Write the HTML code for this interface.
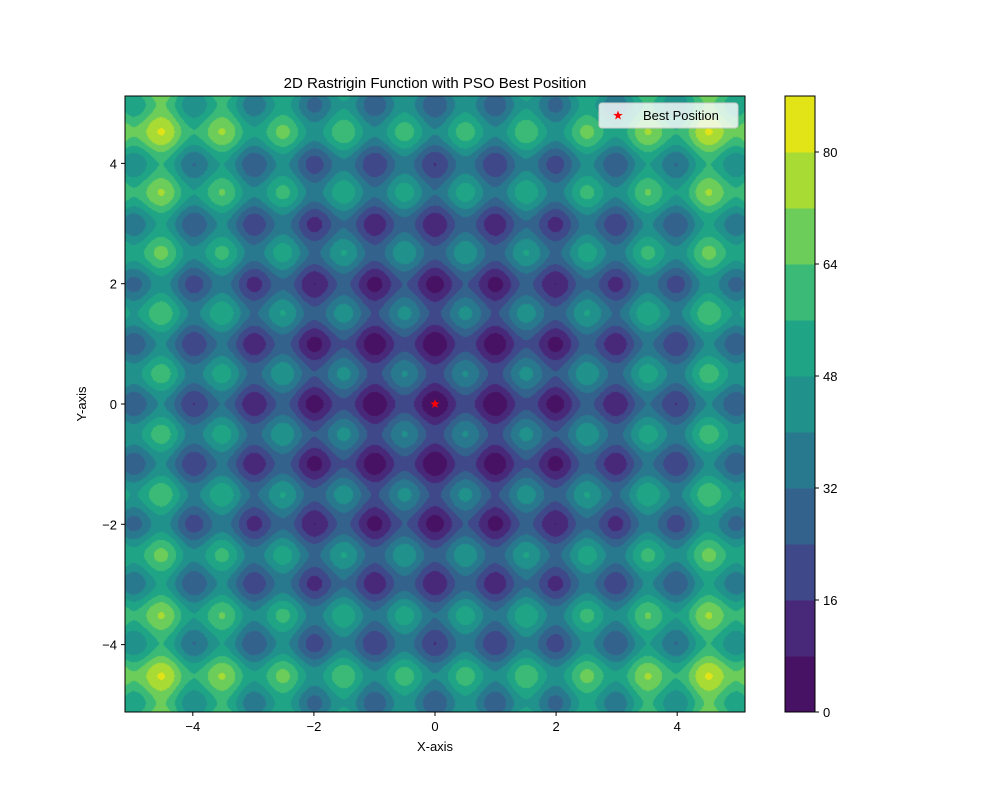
<!DOCTYPE html>
<html><head><meta charset="utf-8">
<style>
body{margin:0;background:#fff;}
#wrap{position:relative;width:1000px;height:800px;font-family:"Liberation Sans",sans-serif;}
svg text{font-family:"Liberation Sans",sans-serif;}
</style></head>
<body>
<div id="wrap">
<canvas id="cv" width="620" height="616" style="position:absolute;left:125px;top:96px;"></canvas>
<svg id="svg" width="1000" height="800" style="position:absolute;left:0;top:0;"></svg>
</div>
<script>
const levels=[0,8,16,24,32,40,48,56,64,72,80,88];
const bandColors=["#471164","#482979","#3f4889","#33638d","#29798e","#21918c","#20a486","#3aba76","#6ccd5a","#a8db34","#e2e418"];
const xTicks=[-4,-2,0,2,4];
const yTicks=[-4,-2,0,2,4];
const cbTicks=[0,16,32,48,64,80];
const bestPosition=[0,0];
const domain=[-5.12,5.12];

const PL=125,PT=96,PW=620,PH=616;
function sx(v){return PL+(v-domain[0])/(domain[1]-domain[0])*PW;}
function sy(v){return PT+PH-(v-domain[0])/(domain[1]-domain[0])*PH;}
function rast(x,y){return 20+x*x-10*Math.cos(2*Math.PI*x)+y*y-10*Math.cos(2*Math.PI*y);}
function hex(c){return [parseInt(c.slice(1,3),16),parseInt(c.slice(3,5),16),parseInt(c.slice(5,7),16)];}
const rgb=bandColors.map(hex);

const cv=document.getElementById('cv');const ctx=cv.getContext('2d');
const img=ctx.createImageData(PW,PH);
for(let j=0;j<PH;j++){for(let i=0;i<PW;i++){
  const x=domain[0]+(i+0.5)/PW*(domain[1]-domain[0]);
  const y=domain[1]-(j+0.5)/PH*(domain[1]-domain[0]);
  const v=rast(x,y);
  let b=0;for(let k=0;k<levels.length-1;k++){if(v>=levels[k])b=k;}
  const c=rgb[b];const o=(j*PW+i)*4;
  img.data[o]=c[0];img.data[o+1]=c[1];img.data[o+2]=c[2];img.data[o+3]=255;
}}
ctx.putImageData(img,0,0);

const NS='http://www.w3.org/2000/svg';const svg=document.getElementById('svg');
function mk(t,a,txt){const e=document.createElementNS(NS,t);for(const k in a)e.setAttribute(k,a[k]);if(txt!==undefined)e.textContent=txt;svg.appendChild(e);return e;}
let e;
e=mk('rect',{x:PL,y:PT,width:PW,height:PH,fill:'none',stroke:'#000','stroke-width':1});

xTicks.forEach(v=>{const x=sx(v);
 e=mk('line',{x1:x,x2:x,y1:PT+PH,y2:PT+PH+4,stroke:'#000'});
 e=mk('text',{x:x,y:PT+PH+19,'text-anchor':'middle','font-size':13},v<0?'\u2212'+(-v):String(v));});
yTicks.forEach(v=>{const y=sy(v);
 e=mk('line',{x1:PL-4,x2:PL,y1:y,y2:y,stroke:'#000'});
 e=mk('text',{x:PL-8,y:y+5,'text-anchor':'end','font-size':13},v<0?'\u2212'+(-v):String(v));});
e=mk('text',{x:435,y:751,'text-anchor':'middle','font-size':13},'X-axis');
e=mk('text',{x:86,y:404,'text-anchor':'middle','font-size':13,transform:'rotate(-90 86 404)'},'Y-axis');
e=mk('text',{x:435,y:88,'text-anchor':'middle','font-size':15},'2D Rastrigin Function with PSO Best Position');
function star(cx,cy,r){let p=[];for(let k=0;k<10;k++){const rr=k%2?r*0.4:r;const a=-Math.PI/2+k*Math.PI/5;p.push((cx+rr*Math.cos(a)).toFixed(1)+','+(cy+rr*Math.sin(a)).toFixed(1));}return p.join(' ');}
e=mk('polygon',{points:star(sx(bestPosition[0]),sy(bestPosition[1]),5),fill:'red'});
e=mk('rect',{x:599,y:103,width:139,height:25,rx:3,fill:'rgba(255,255,255,0.8)',stroke:'#ccc'});
e=mk('polygon',{points:star(618,115.5,5),fill:'red'});
e=mk('text',{x:643,y:120,'font-size':13},'Best Position');
const CX=785,CW=30,CT=96,CH=616,lmin=levels[0],lmax=levels[levels.length-1];
function cy(v){return CT+CH-(v-lmin)/(lmax-lmin)*CH;}
for(let k=0;k<bandColors.length;k++){
 e=mk('rect',{x:CX,y:cy(levels[k+1]),width:CW,height:cy(levels[k])-cy(levels[k+1])+0.5,fill:bandColors[k]});}
e=mk('rect',{x:CX,y:CT,width:CW,height:CH,fill:'none',stroke:'#000'});
cbTicks.forEach(v=>{const y=cy(v);
 e=mk('line',{x1:CX+CW,x2:CX+CW+4,y1:y,y2:y,stroke:'#000'});
 e=mk('text',{x:CX+CW+8,y:y+5,'font-size':13},String(v));});
</script>
</body></html>
